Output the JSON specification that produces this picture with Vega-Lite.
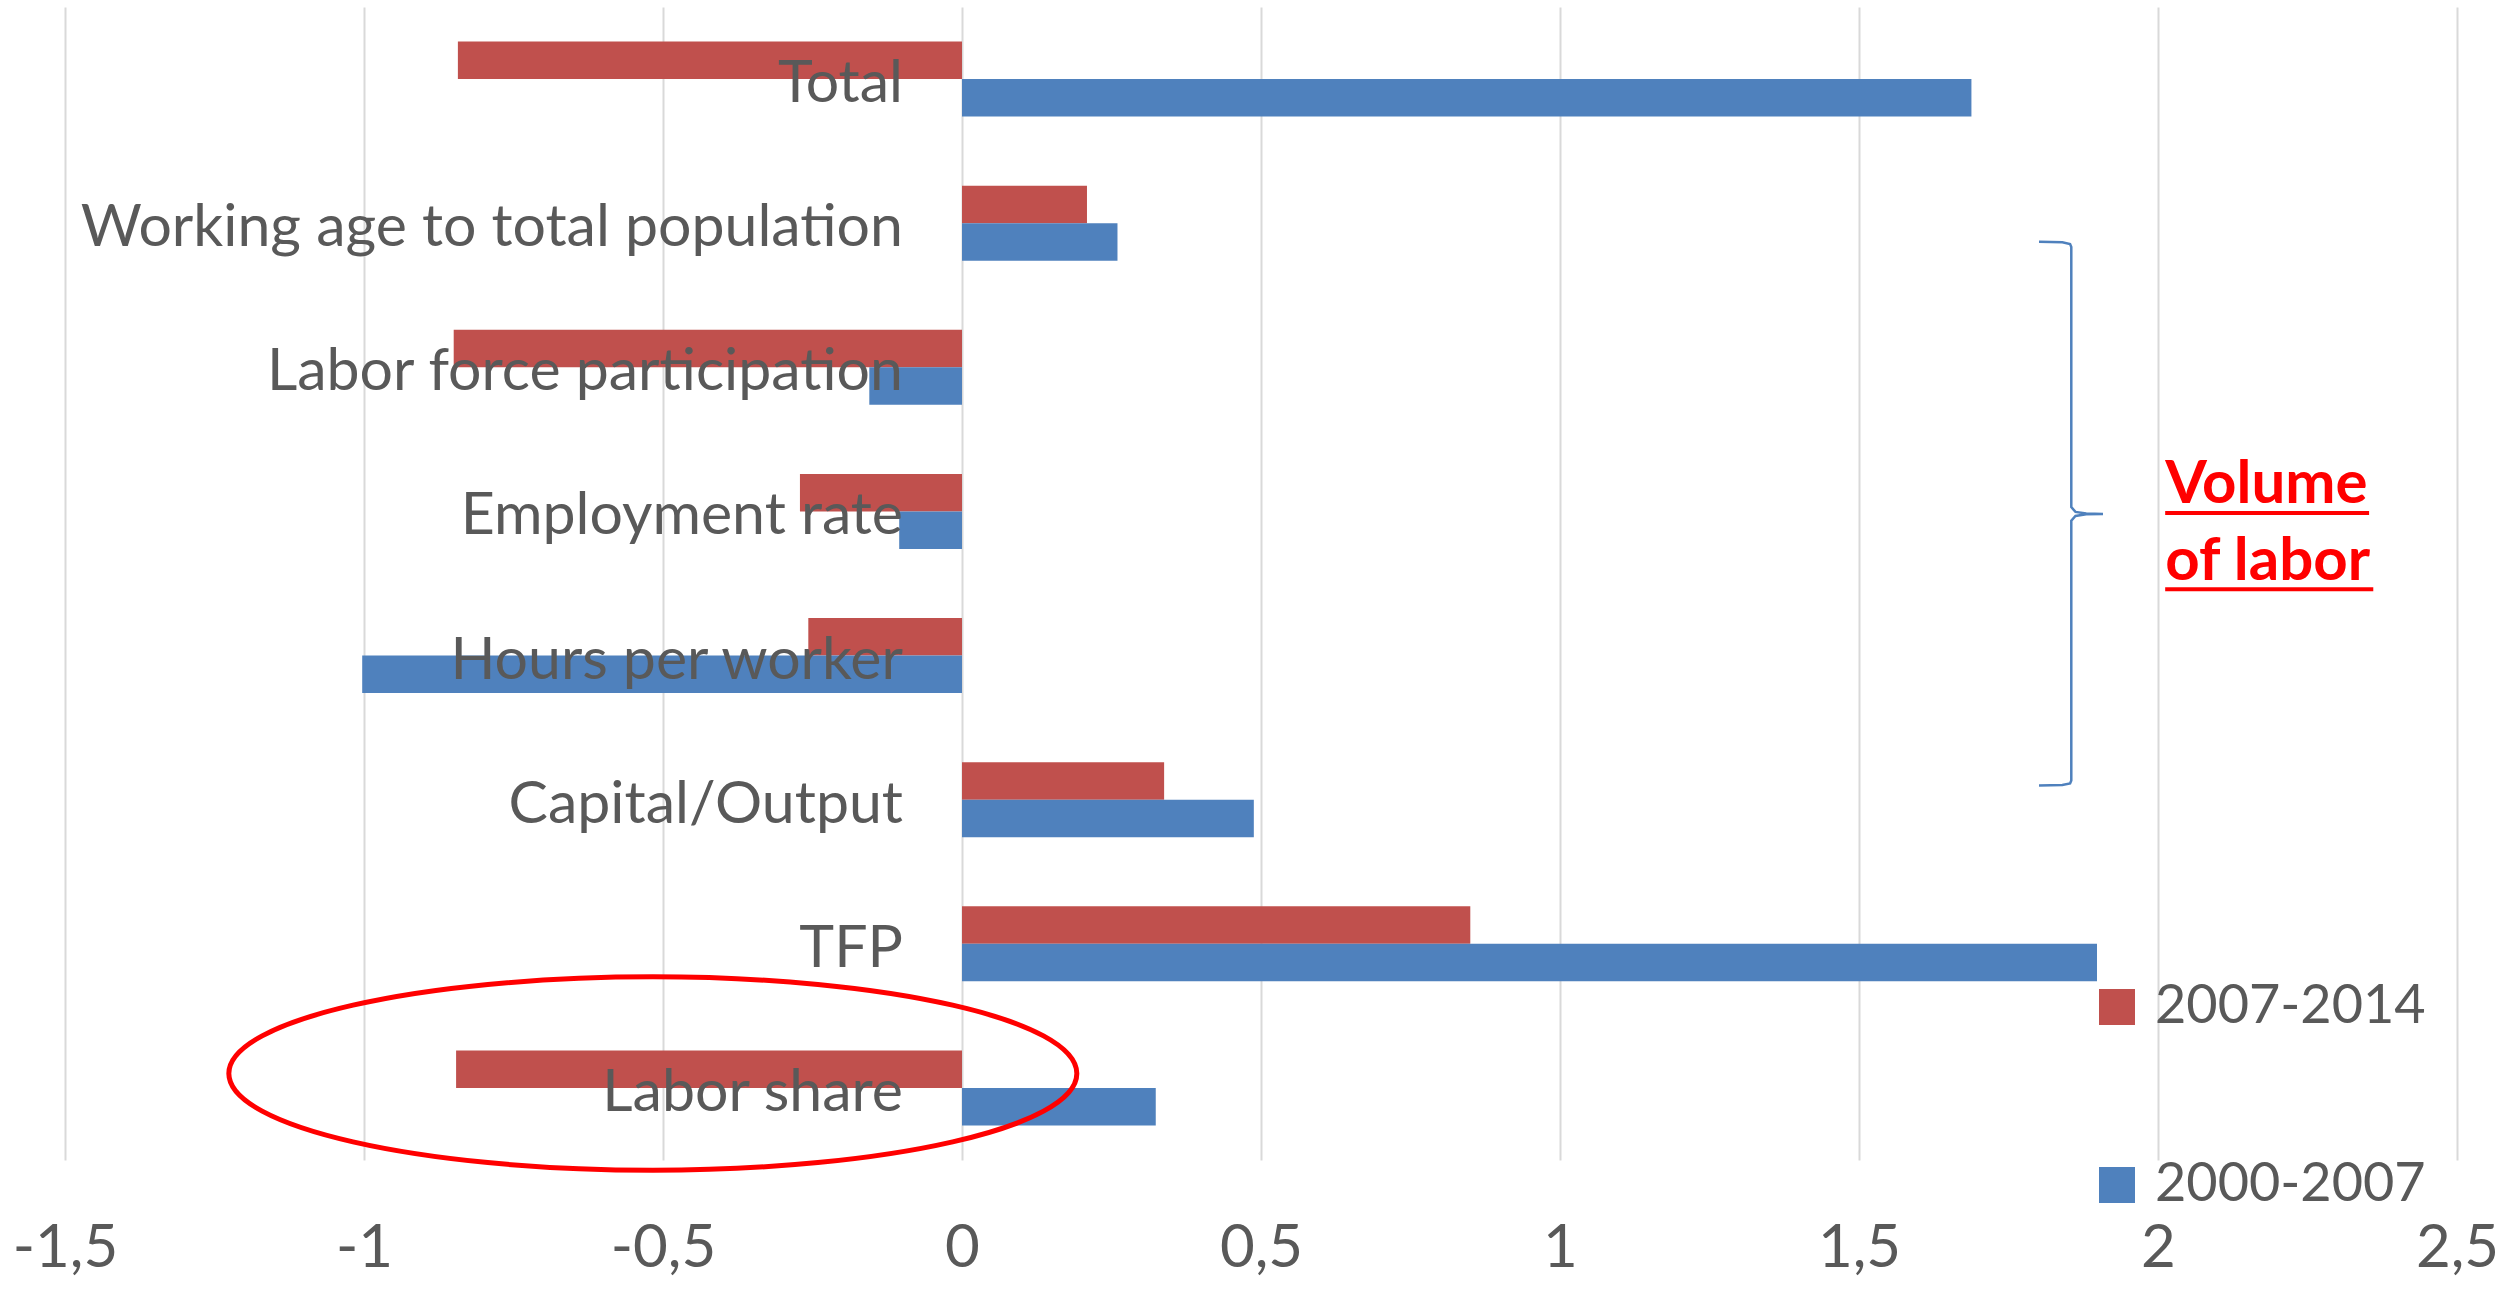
{
  "$schema": "https://vega.github.io/schema/vega-lite/v6.json",
  "width": 2392,
  "height": 1153,
  "autosize": {"type": "none"},
  "padding": {"left": 65, "top": 7, "right": 52, "bottom": 137},
  "background": "white",
  "config": {
    "view": {"stroke": null},
    "font": "Lato",
    "axisX": {
      "domain": false,
      "ticks": false,
      "grid": true,
      "gridColor": "#D9D9D9",
      "gridWidth": 2,
      "labelFontSize": 60,
      "labelColor": "#595959",
      "labelPadding": 59,
      "labelFlush": false,
      "labelOverlap": false,
      "labelBound": false,
      "labelFont": "Lato"
    }
  },
  "datasets": {
    "bars": [
      {"category": "Total", "period": "2007-2014", "value": -0.843},
      {"category": "Total", "period": "2000-2007", "value": 1.688},
      {"category": "Working age to total population", "period": "2007-2014", "value": 0.209},
      {"category": "Working age to total population", "period": "2000-2007", "value": 0.26},
      {"category": "Labor force participation", "period": "2007-2014", "value": -0.85},
      {"category": "Labor force participation", "period": "2000-2007", "value": -0.155},
      {"category": "Employment rate", "period": "2007-2014", "value": -0.271},
      {"category": "Employment rate", "period": "2000-2007", "value": -0.105},
      {"category": "Hours per worker", "period": "2007-2014", "value": -0.257},
      {"category": "Hours per worker", "period": "2000-2007", "value": -1.003},
      {"category": "Capital/Output", "period": "2007-2014", "value": 0.338},
      {"category": "Capital/Output", "period": "2000-2007", "value": 0.488},
      {"category": "TFP", "period": "2007-2014", "value": 0.85},
      {"category": "TFP", "period": "2000-2007", "value": 1.898},
      {"category": "Labor share", "period": "2007-2014", "value": -0.846},
      {"category": "Labor share", "period": "2000-2007", "value": 0.324}
    ],
    "brace": [
      {"i": 1, "value": 1.801, "pos": 1.629},
      {"i": 2, "value": 1.84, "pos": 1.633},
      {"i": 3, "value": 1.853, "pos": 1.645},
      {"i": 4, "value": 1.855, "pos": 1.665},
      {"i": 5, "value": 1.855, "pos": 3.47},
      {"i": 6, "value": 1.862, "pos": 3.503},
      {"i": 7, "value": 1.88, "pos": 3.514},
      {"i": 8, "value": 1.908, "pos": 3.517},
      {"i": 9, "value": 1.88, "pos": 3.52},
      {"i": 10, "value": 1.862, "pos": 3.531},
      {"i": 11, "value": 1.855, "pos": 3.564},
      {"i": 12, "value": 1.855, "pos": 5.367},
      {"i": 13, "value": 1.853, "pos": 5.387},
      {"i": 14, "value": 1.84, "pos": 5.398},
      {"i": 15, "value": 1.801, "pos": 5.402}
    ],
    "note": [
      {"text": "Volume", "value": 2.012, "pos": 3.443},
      {"text": "of labor", "value": 2.012, "pos": 3.974}
    ],
    "underline": [
      {"value": 2.012, "value2": 2.353, "pos": 3.51},
      {"value": 2.012, "value2": 2.36, "pos": 4.04}
    ],
    "ellipse": [
      {"value": -0.517, "pos": 7.4}
    ]
  },
  "layer": [
    {
      "layer": [
        {
          "data": {"name": "bars"},
          "mark": {"type": "bar"},
          "encoding": {
            "y": {
              "field": "category",
              "type": "nominal",
              "sort": null,
              "scale": {"paddingInner": 0.48, "paddingOuter": 0.24},
              "axis": null
            },
            "yOffset": {
              "field": "period",
              "type": "nominal",
              "sort": ["2007-2014", "2000-2007"],
              "scale": {"paddingInner": 0, "paddingOuter": 0}
            },
            "x": {
              "field": "value",
              "type": "quantitative",
              "title": null,
              "scale": {"domain": [-1.5, 2.5], "nice": false, "zero": false},
              "axis": {
                "values": [-1.5, -1, -0.5, 0, 0.5, 1, 1.5, 2, 2.5],
                "labelExpr": "replace(toString(datum.value), '.', ',')"
              }
            },
            "color": {
              "field": "period",
              "type": "nominal",
              "scale": {"domain": ["2007-2014", "2000-2007"], "range": ["#C0504D", "#4F81BD"]},
              "legend": {
                "orient": "none",
                "legendX": 2025,
                "legendY": 973,
                "title": null,
                "symbolType": "square",
                "symbolSize": 1296,
                "symbolStrokeWidth": 0,
                "labelFontSize": 54,
                "labelColor": "#595959",
                "labelFont": "Lato",
                "labelLimit": 600,
                "rowPadding": 124,
                "labelOffset": 11,
                "padding": 0
              }
            }
          }
        },
        {
          "data": {"name": "bars"},
          "transform": [{"filter": "datum.period == '2007-2014'"}],
          "mark": {"type": "text", "align": "right", "baseline": "middle", "dx": -59, "dy": 5, "fontSize": 59, "color": "#595959", "font": "Lato"},
          "encoding": {
            "y": {"field": "category", "type": "nominal", "sort": null},
            "x": {"datum": 0, "type": "quantitative"},
            "text": {"field": "category"}
          }
        }
      ]
    },
    {
      "layer": [
        {
          "data": {"name": "brace"},
          "mark": {"type": "line", "color": "#4F81BD", "strokeWidth": 2.5},
          "encoding": {
            "x": {"field": "value", "type": "quantitative", "title": null},
            "y": {"field": "pos", "type": "quantitative", "scale": {"domain": [0, 8], "reverse": true, "nice": false, "zero": false}, "axis": null},
            "order": {"field": "i", "type": "quantitative"}
          }
        },
        {
          "data": {"name": "note"},
          "mark": {"type": "text", "align": "left", "baseline": "alphabetic", "fontSize": 60, "fontWeight": "bold", "color": "#FF0000", "font": "Lato"},
          "encoding": {
            "x": {"field": "value", "type": "quantitative", "title": null},
            "y": {"field": "pos", "type": "quantitative"},
            "text": {"field": "text"}
          }
        },
        {
          "data": {"name": "underline"},
          "mark": {"type": "rule", "color": "#FF0000", "strokeWidth": 4},
          "encoding": {
            "x": {"field": "value", "type": "quantitative", "title": null},
            "x2": {"field": "value2"},
            "y": {"field": "pos", "type": "quantitative"}
          }
        },
        {
          "data": {"name": "ellipse"},
          "mark": {"type": "point", "shape": "M -1 0 A 1 0.228 0 1 0 1 0 A 1 0.228 0 1 0 -1 0 Z", "filled": false, "stroke": "#FF0000", "strokeWidth": 5, "size": 719104, "opacity": 1},
          "encoding": {
            "x": {"field": "value", "type": "quantitative", "title": null},
            "y": {"field": "pos", "type": "quantitative"}
          }
        }
      ]
    }
  ],
  "resolve": {"scale": {"y": "independent"}}
}
